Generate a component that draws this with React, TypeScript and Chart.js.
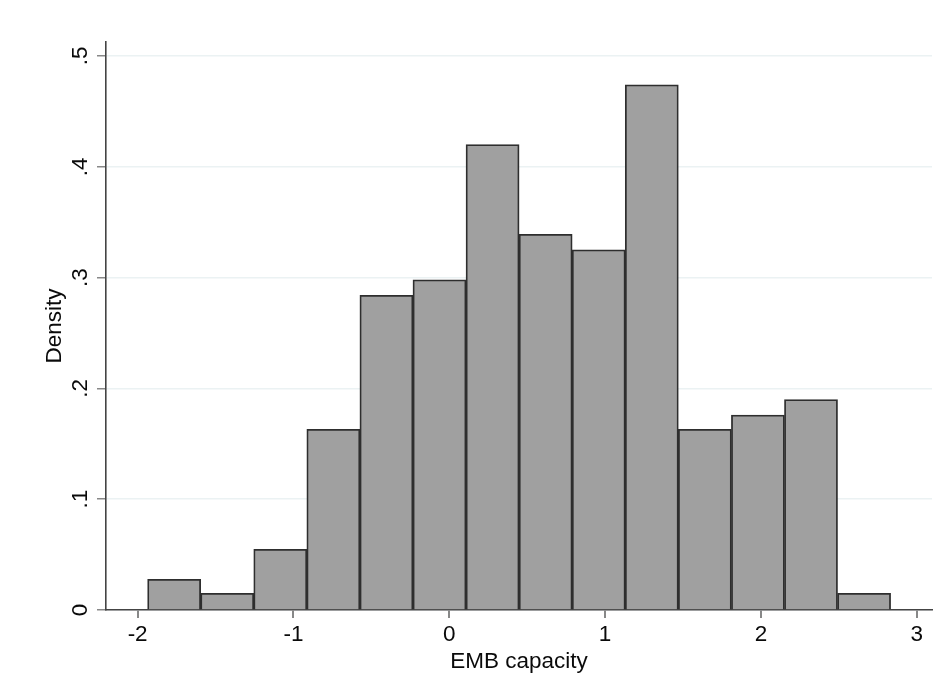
import React, { useEffect, useRef } from "react";
import { Chart, registerables } from "chart.js";

Chart.register(...registerables);

// Histogram of EMB capacity (density)
const binStart = -1.936;
const binWidth = 0.3406;
const density = [0.0277, 0.0151, 0.0548, 0.163, 0.284, 0.298, 0.42, 0.339, 0.325, 0.474, 0.163, 0.176, 0.19, 0.0151];

const xTicks = [-2, -1, 0, 1, 2, 3];
const xTickLabels = ["-2", "-1", "0", "1", "2", "3"];
const yTicks = [0, 0.1, 0.2, 0.3, 0.4, 0.5];
const yTickLabels = ["0", ".1", ".2", ".3", ".4", ".5"];

const xMin = -2.203;
const xMax = 3.098;
const yMin = 0;
const yMax = 0.5126;

const xTitle = "EMB capacity";
const yTitle = "Density";

const FONT = "'Liberation Sans', Arial, Helvetica, sans-serif";
const FONT_SIZE = 22.5;

const rotatedYLabels = {
  id: "rotatedYLabels",
  afterDraw(chart: any) {
    const ctx = chart.ctx;
    const y = chart.scales.y;
    ctx.save();
    ctx.fillStyle = "#0a0a0a";
    ctx.font = `${FONT_SIZE}px ${FONT}`;
    ctx.textAlign = "center";
    ctx.textBaseline = "middle";
    yTicks.forEach((v, i) => {
      const py = y.getPixelForValue(v);
      ctx.save();
      ctx.translate(80.5, py);
      ctx.rotate(-Math.PI / 2);
      ctx.fillText(yTickLabels[i], 0, 0);
      ctx.restore();
    });
    const area = chart.chartArea;
    ctx.save();
    ctx.translate(55, (area.top + area.bottom) / 2);
    ctx.rotate(-Math.PI / 2);
    ctx.fillText(yTitle, 0, 0);
    ctx.restore();
    ctx.restore();
  },
};

export default function App() {
  const ref = useRef<HTMLCanvasElement | null>(null);

  useEffect(() => {
    if (!ref.current) return;
    const points = density.map((d, i) => ({ x: binStart + (i + 0.5) * binWidth, y: d }));
    const chart = new Chart(ref.current, {
      type: "bar",
      data: {
        datasets: [
          {
            data: points as any,
            backgroundColor: "#a0a0a0",
            borderColor: "#2e2e2e",
            borderWidth: 1.8,
            barPercentage: 1,
            categoryPercentage: 1,
          },
        ],
      },
      plugins: [rotatedYLabels],
      options: {
        responsive: false,
        animation: false,
        events: [],
        layout: { padding: { left: 0, right: 9, top: 42, bottom: 0 } },
        plugins: {
          legend: { display: false },
          tooltip: { enabled: false },
        },
        scales: {
          x: {
            type: "linear",
            min: xMin,
            max: xMax,
            offset: false,
            grid: {
              offset: false,
              drawOnChartArea: false,
              drawTicks: true,
              tickLength: 8,
              tickColor: "#888",
              lineWidth: 2,
            },
            border: { color: "#444", width: 1.6 },
            ticks: {
              color: "#0a0a0a",
              font: { family: FONT, size: FONT_SIZE },
              padding: 3,
              maxRotation: 0,
              minRotation: 0,
              callback: (v: any) => {
                const i = xTicks.indexOf(Number(v));
                return i >= 0 ? xTickLabels[i] : "";
              },
            },
            title: {
              display: true,
              text: xTitle,
              color: "#0a0a0a",
              font: { family: FONT, size: FONT_SIZE },
              padding: { top: 0, bottom: 17.5 },
            },
            afterBuildTicks: (scale: any) => {
              scale.ticks = xTicks.map((v) => ({ value: v }));
            },
            afterFit: (scale: any) => {
              scale.height = 83;
            },
          },
          y: {
            type: "linear",
            min: yMin,
            max: yMax,
            grid: {
              color: "#ebf2f3",
              lineWidth: 1.5,
              drawTicks: true,
              tickLength: 9,
              tickColor: "#888",
            },
            border: { color: "#444", width: 1.6 },
            ticks: { display: false },
            afterBuildTicks: (scale: any) => {
              scale.ticks = yTicks.map((v) => ({ value: v }));
            },
            afterFit: (scale: any) => {
              scale.width = 106;
            },
          },
        },
      },
    });
    return () => chart.destroy();
  }, []);

  return (
    <div style={{ position: "fixed", left: 0, top: 0, width: 941, height: 693, background: "#fff" }}>
      <canvas ref={ref} width={941} height={693} style={{ display: "block" }} />
    </div>
  );
}
